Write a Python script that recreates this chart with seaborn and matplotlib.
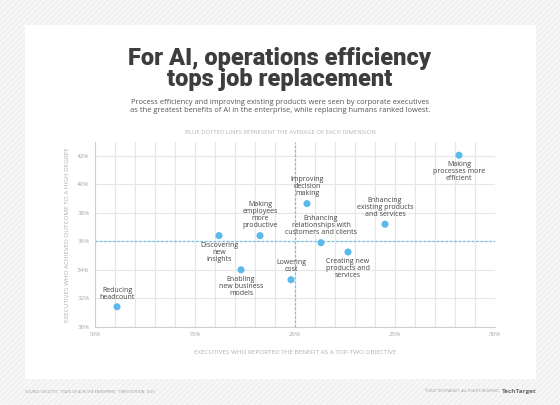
import numpy as np
import pandas as pd
import matplotlib
matplotlib.use("Agg")
import matplotlib.pyplot as plt
from matplotlib.patches import Rectangle
import seaborn as sns

# benefit data (percent)
benefits = [
    "Reducing\nheadcount",
    "Discovering\nnew\ninsights",
    "Making\nemployees\nmore\nproductive",
    "Enabling\nnew business\nmodels",
    "Lowering\ncost",
    "Improving\ndecision\nmaking",
    "Enhancing\nrelationships with\ncustomers and clients",
    "Creating new\nproducts and\nservices",
    "Enhancing\nexisting products\nand services",
    "Making\nprocesses more\nefficient",
]
top_two_objective = [11.1, 16.2, 18.25, 17.3, 19.8, 20.6, 21.3, 22.65, 24.5, 28.2]
achieved_high = [31.4, 36.4, 36.4, 34.0, 33.3, 38.65, 35.9, 35.25, 37.2, 42.05]
label_side = ["above", "below", "above", "below", "above",
              "above", "above", "below", "above", "below"]

x_ticks = [10, 15, 20, 25, 30]
y_ticks = [30, 32, 34, 36, 38, 40, 42]

df = pd.DataFrame({"benefit": benefits, "x": top_two_objective,
                   "y": achieved_high, "side": label_side})

sns.set_style("white")
plt.rcParams["font.family"] = ["Open Sans", "DejaVu Sans"]

fig = plt.figure(figsize=(5.6, 4.05), dpi=100)
fig.patch.set_facecolor("#f1f1f1")

# hatched background + white card
fig.patches.append(Rectangle((0, 0), 1, 1, transform=fig.transFigure,
                             facecolor="#f1f1f1", edgecolor="#fafafa",
                             hatch="//////", linewidth=0, zorder=-2))
fig.patches.append(Rectangle((25 / 560, 1 - 379 / 405), 511 / 560, 354 / 405,
                             transform=fig.transFigure, facecolor="white",
                             edgecolor="none", zorder=-1))

ax = fig.add_axes([95 / 560, 78.3 / 405, 400 / 560, 185 / 405])
ax.set_facecolor("white")

ax.set_xlim(10, 30)
ax.set_ylim(30, 43)
ax.set_xticks(np.arange(10, 31, 1), minor=True)
ax.set_xticks(x_ticks)
ax.set_yticks(y_ticks)
ax.set_xticklabels([f"{t}%" for t in x_ticks])
ax.set_yticklabels([f"{t}%" for t in y_ticks])
ax.grid(True, which="both", axis="x", color="#e6e6e6", linewidth=0.8)
ax.grid(True, which="major", axis="y", color="#e6e6e6", linewidth=0.8)
ax.set_axisbelow(True)
ax.tick_params(axis="both", which="both", length=0, labelsize=4.5,
               labelcolor="#a8a8a8", pad=4)
for s in ["top", "right"]:
    ax.spines[s].set_visible(False)
for s in ["left", "bottom"]:
    ax.spines[s].set_color("#cfcfcf")
    ax.spines[s].set_linewidth(0.8)

# average lines
ax.axvline(df["x"].mean(), color="#72bfec", linestyle=(0, (2, 1.5)), linewidth=0.9, zorder=1)
ax.axhline(df["y"].mean(), color="#72bfec", linestyle=(0, (2, 1.5)), linewidth=0.9, zorder=1)

sns.scatterplot(data=df, x="x", y="y", ax=ax, color="#5cb9ec", s=26,
                edgecolor="none", zorder=3)

for _, r in df.iterrows():
    if r["side"] == "above":
        ax.annotate(r["benefit"], (r["x"], r["y"]), xytext=(0, 4.5),
                    textcoords="offset points", ha="center", va="bottom",
                    fontsize=5.0, color="#444444", linespacing=1.0)
    else:
        ax.annotate(r["benefit"], (r["x"], r["y"]), xytext=(0, -4.5),
                    textcoords="offset points", ha="center", va="top",
                    fontsize=5.0, color="#444444", linespacing=1.0)

ax.set_xlabel("EXECUTIVES WHO REPORTED THE BENEFIT AS A TOP-TWO OBJECTIVE",
              fontsize=4.6, color="#b0b0b0", labelpad=9)
ax.set_ylabel("EXECUTIVES WHO ACHIEVED OUTCOME TO A HIGH DEGREE",
              fontsize=4.6, color="#b0b0b0", labelpad=5)

# titles
fig.text(0.5, 1 - 69 / 405, "For AI, operations efficiency\ntops job replacement",
         ha="center", va="center", fontsize=17, fontweight="black",
         color="#3d3d3d", linespacing=0.92, family=["Roboto", "DejaVu Sans"])
fig.text(0.5, 1 - 106.5 / 405,
         "Process efficiency and improving existing products were seen by corporate executives\n"
         "as the greatest benefits of AI in the enterprise, while replacing humans ranked lowest.",
         ha="center", va="center", fontsize=5.4, color="#555555", linespacing=1.25)
fig.text(0.5, 1 - 132 / 405, "BLUE DOTTED LINES REPRESENT THE AVERAGE OF EACH DIMENSION",
         ha="center", va="center", fontsize=4.2, color="#b5b5b5")

# footer
fig.text(25 / 560, 1 - 391 / 405,
         "SOURCE: DELOITTE, \"STATE OF AI IN THE ENTERPRISE,\" THIRD EDITION, 2020",
         ha="left", va="center", fontsize=2.6, color="#9a9a9a")
fig.text(500 / 560, 1 - 391 / 405, "\u00a92020 TECHTARGET. ALL RIGHTS RESERVED.",
         ha="right", va="center", fontsize=2.6, color="#9a9a9a")
fig.text(536 / 560, 1 - 391 / 405, "TechTarget", ha="right", va="center",
         fontsize=4.6, color="#6a6a6a", fontweight="bold")

fig.savefig("out.png", dpi=100, facecolor=fig.get_facecolor())
